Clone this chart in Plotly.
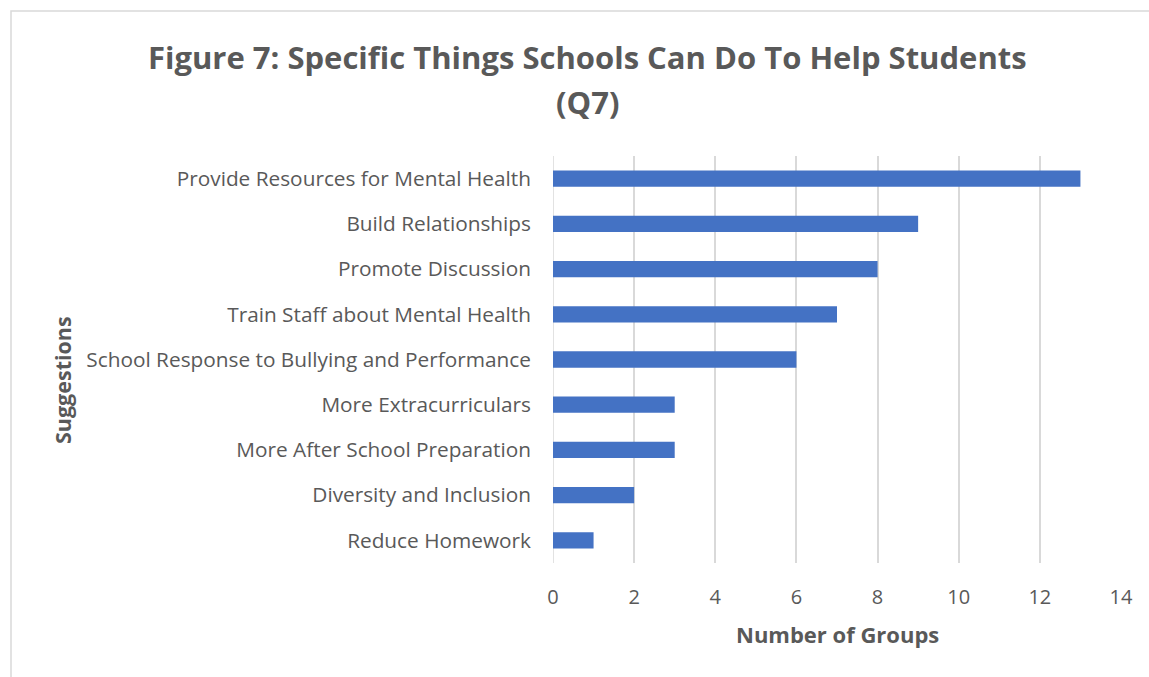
import plotly.graph_objects as go

# Survey results: suggestions for schools, counted by number of groups
suggestions = [
    "Provide Resources for Mental Health",
    "Build Relationships",
    "Promote Discussion",
    "Train Staff about Mental Health",
    "School Response to Bullying and Performance",
    "More Extracurriculars",
    "More After School Preparation",
    "Diversity and Inclusion",
    "Reduce Homework",
]
group_counts = [13, 9, 8, 7, 6, 3, 3, 2, 1]
x_ticks = [0, 2, 4, 6, 8, 10, 12, 14]

W, H = 1149, 677
L, R, T, B = 553, 28, 156, 114
plot_w = W - L - R
plot_h = H - T - B

def px_x(px):
    return (px - L) / plot_w

def px_y(py):
    return (H - B - py) / plot_h

FONT = "Open Sans"
GREY = "#595959"

fig = go.Figure(
    go.Bar(
        x=group_counts,
        y=suggestions,
        orientation="h",
        marker=dict(color="#4472C4", line=dict(width=0)),
        width=0.36,
    )
)

title_font = dict(family=FONT, size=31, color=GREY)

fig.update_layout(
    width=W,
    height=H,
    margin=dict(l=L, r=R, t=T, b=B),
    paper_bgcolor="white",
    plot_bgcolor="white",
    showlegend=False,
    font=dict(family=FONT, color=GREY, size=20),
    xaxis=dict(
        range=[0, 14],
        tickvals=x_ticks,
        showgrid=True,
        gridcolor="#d9d9d9",
        gridwidth=1.5,
        zeroline=False,
        showline=False,
        ticks="",
        ticklabelstandoff=20,
        tickfont=dict(size=20, color=GREY),
        fixedrange=True,
    ),
    yaxis=dict(
        autorange="reversed",
        showgrid=False,
        showline=False,
        ticks="",
        ticklabelstandoff=21,
        tickfont=dict(size=20.8, color=GREY),
    ),
    shapes=[
        dict(
            type="rect",
            xref="paper", yref="paper",
            x0=px_x(11), x1=px_x(W + 20),
            y0=px_y(H + 20), y1=px_y(11),
            line=dict(color="#d9d9d9", width=1.5),
            fillcolor="rgba(0,0,0,0)",
            layer="below",
        ),
        dict(
            type="line",
            xref="x", yref="paper",
            x0=0, x1=0, y0=0, y1=1,
            line=dict(color="#d9d9d9", width=1.5),
            layer="below",
        ),
    ],
    annotations=[
        dict(
            text="<b>Figure 7: Specific Things Schools Can Do To Help Students</b>",
            xref="paper", yref="paper",
            x=px_x(587), y=px_y(57),
            xanchor="center", yanchor="middle",
            showarrow=False,
            font=title_font,
        ),
        dict(
            text="<b>(Q7)</b>",
            xref="paper", yref="paper",
            x=px_x(587), y=px_y(102),
            xanchor="center", yanchor="middle",
            showarrow=False,
            font=title_font,
        ),
        dict(
            text="<b>Number of Groups</b>",
            xref="paper", yref="paper",
            x=px_x(837), y=px_y(634),
            xanchor="center", yanchor="middle",
            showarrow=False,
            font=dict(family=FONT, size=22, color=GREY),
        ),
        dict(
            text="<b>Suggestions</b>",
            xref="paper", yref="paper",
            x=px_x(62), y=px_y(380),
            xanchor="center", yanchor="middle",
            textangle=-90,
            showarrow=False,
            font=dict(family=FONT, size=21.5, color=GREY),
        ),
    ],
)

fig.write_html("out.html")
